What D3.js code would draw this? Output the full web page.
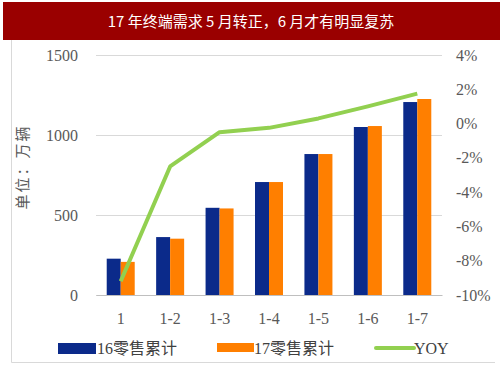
<!DOCTYPE html>
<html>
<head>
<meta charset="utf-8">
<script src="https://cdn.jsdelivr.net/npm/d3@7"></script>
<style>
  body { margin: 0; background: #fff; }
  svg { display: block; }
</style>
</head>
<body>
<div id="canvas"></div>
<script>
const categories = ['1', '1-2', '1-3', '1-4', '1-5', '1-6', '1-7']
const sales16 = [227, 362, 545, 706, 881, 1050, 1206]
const sales17 = [207, 352, 541, 706, 881, 1056, 1225]
const yoy = [-9.2, -2.5, -0.5, -0.25, 0.3, 1.0, 1.75]
const leftTicks = [0, 500, 1000, 1500]
const rightTicks = [-10, -8, -6, -4, -2, 0, 2, 4]

const width = 503
const height = 378
const margin = { top: 55, left: 96, bottom: 83, right: 61 }
const iwidth = width - margin.left - margin.right
const iheight = height - margin.top - margin.bottom
const serif = '"Liberation Serif", "Times New Roman", "Noto Sans CJK SC", serif'

const svg = d3.select('#canvas').append('svg')
  .attr('width', width)
  .attr('height', height)

// frame: left and bottom edges only
svg.append('path')
  .attr('d', 'M11.5,30V362.5H495')
  .attr('fill', 'none')
  .attr('stroke', '#d9d9d9')

// title bar
svg.append('rect')
  .attr('x', 3).attr('y', 2)
  .attr('width', 497).attr('height', 38)
  .attr('fill', '#9a0000')
svg.append('text')
  .attr('x', 251).attr('y', 27)
  .attr('text-anchor', 'middle')
  .attr('fill', '#fff')
  .style('font-family', '"Noto Sans CJK SC", sans-serif')
  .style('font-size', '15px')
  .text('17 年终端需求 5 月转正，6 月才有明显复苏')

const g = svg.append('g')
  .attr('transform', `translate(${margin.left},${margin.top})`)

const x = d3.scaleBand().domain(categories).range([0, iwidth])
const xs = d3.scaleBand().domain(['16', '17']).range([0, 28])
const y = d3.scaleLinear().domain([0, 1500]).range([iheight, 0])
const y2 = d3.scaleLinear().domain([-10, 4]).range([iheight, 0])

// gridlines
g.append('g')
  .selectAll('line')
  .data(leftTicks)
  .join('line')
  .attr('x1', 0).attr('x2', iwidth)
  .attr('y1', (d) => Math.round(y(d)) + 0.5)
  .attr('y2', (d) => Math.round(y(d)) + 0.5)
  .attr('stroke', '#d9d9d9')

// bars
const groups = g.append('g')
  .selectAll('g')
  .data(categories)
  .join('g')
  .attr('transform', (d) => `translate(${x(d) + (x.bandwidth() - 28) / 2},0)`)

groups.append('rect')
  .attr('x', xs('16'))
  .attr('width', xs.bandwidth())
  .attr('y', (d, i) => y(sales16[i]))
  .attr('height', (d, i) => iheight - y(sales16[i]))
  .attr('fill', '#0b2a8a')

groups.append('rect')
  .attr('x', xs('17'))
  .attr('width', xs.bandwidth())
  .attr('y', (d, i) => y(sales17[i]))
  .attr('height', (d, i) => iheight - y(sales17[i]))
  .attr('fill', '#ff7f00')

// yoy line
const line = d3.line()
  .x((d, i) => x(categories[i]) + x.bandwidth() / 2)
  .y((d) => y2(d))
g.append('path')
  .datum(yoy)
  .attr('d', line)
  .attr('fill', 'none')
  .attr('stroke', '#92d050')
  .attr('stroke-width', 4)
  .attr('stroke-linejoin', 'round')

// axes
const xAxis = g.append('g')
  .attr('transform', `translate(0,${iheight})`)
  .call(d3.axisBottom(x).tickSize(0).tickPadding(18))
xAxis.select('.domain').attr('stroke', '#bfbfbf')

const yAxis = g.append('g')
  .call(d3.axisLeft(y).tickValues(leftTicks).tickSize(0).tickPadding(18)
    .tickFormat(d3.format('d')))
yAxis.select('.domain').remove()

const y2Axis = g.append('g')
  .attr('transform', `translate(${iwidth},0)`)
  .call(d3.axisRight(y2).tickValues(rightTicks).tickSize(0).tickPadding(14)
    .tickFormat((d) => d + '%'))
y2Axis.select('.domain').remove()

g.selectAll('.tick text')
  .attr('fill', '#595959')
  .style('font-family', serif)
  .style('font-size', '16px')

// y axis title
svg.append('text')
  .attr('transform', 'translate(28,167) rotate(-90)')
  .attr('text-anchor', 'middle')
  .attr('fill', '#595959')
  .style('font-family', serif)
  .style('font-size', '15px')
  .style('letter-spacing', '2px')
  .text('单位：万辆')

// legend
const legend = svg.append('g').attr('transform', 'translate(0,348)')
legend.append('rect')
  .attr('x', 58).attr('y', -5).attr('width', 38).attr('height', 11)
  .attr('fill', '#0b2a8a')
legend.append('text')
  .attr('x', 97).attr('y', 6)
  .text('16零售累计')
legend.append('rect')
  .attr('x', 217).attr('y', -5).attr('width', 37).attr('height', 9)
  .attr('fill', '#ff7f00')
legend.append('text')
  .attr('x', 254).attr('y', 6)
  .text('17零售累计')
legend.append('line')
  .attr('x1', 376).attr('x2', 414)
  .attr('y1', 0).attr('y2', 0)
  .attr('stroke', '#92d050')
  .attr('stroke-width', 4)
  .attr('stroke-linecap', 'round')
legend.append('text')
  .attr('x', 414).attr('y', 6)
  .text('YOY')
legend.selectAll('text')
  .attr('fill', '#404040')
  .style('font-family', serif)
  .style('font-size', '16px')
</script>
</body>
</html>
